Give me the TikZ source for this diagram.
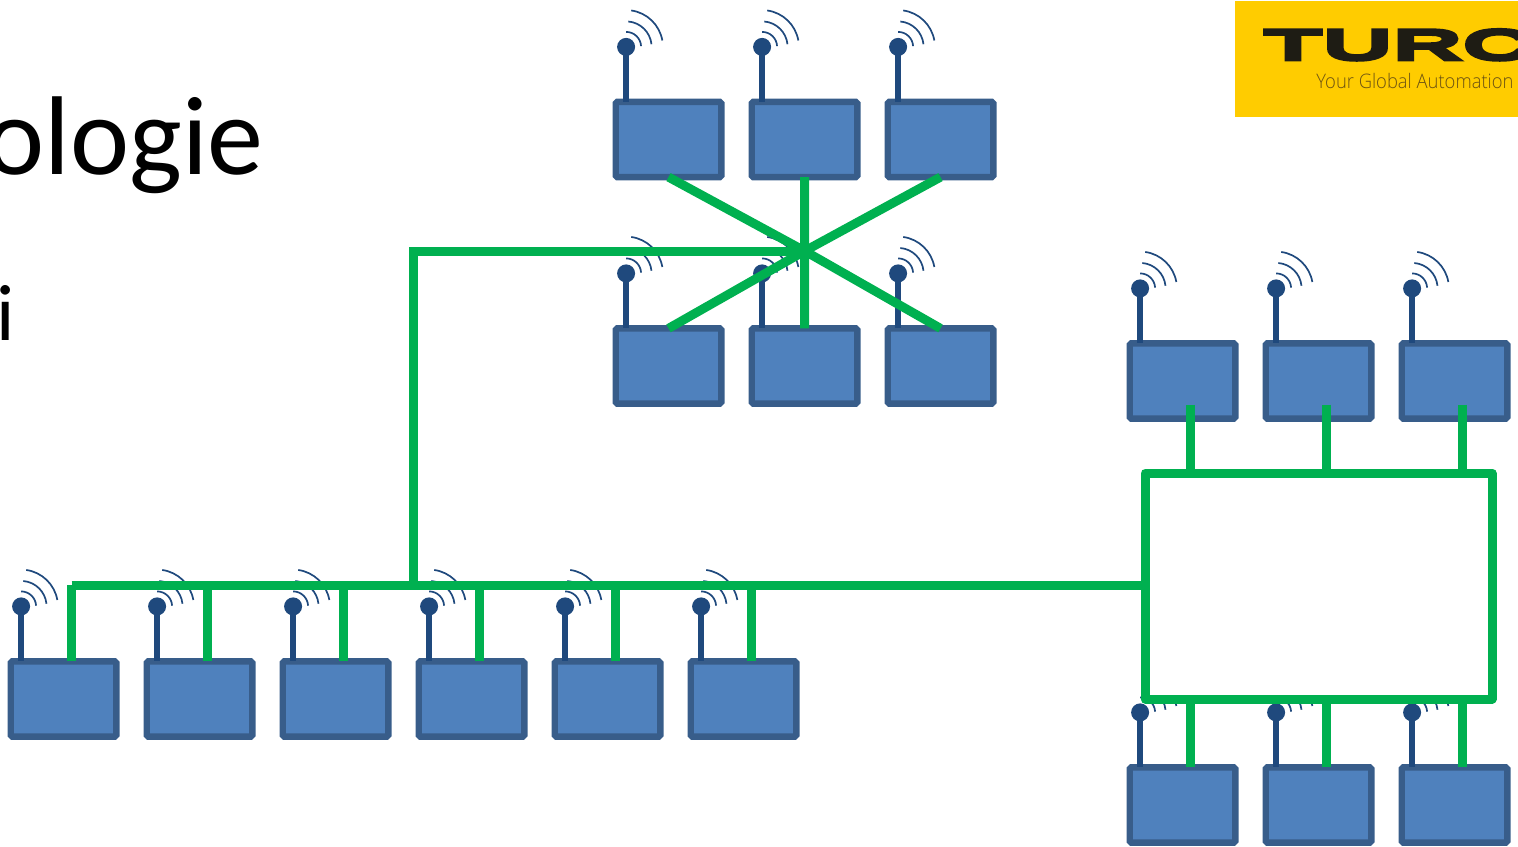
\documentclass[tikz,border=0pt]{standalone}
\usepackage{fontspec}
\setmainfont{Carlito}
\newfontfamily\turckfont[FakeBold=6,FakeStretch=2.2]{Liberation Sans Bold}
\newfontfamily\logofont[FakeStretch=0.92]{Open Sans Light}
\usetikzlibrary{calc}
\definecolor{boxfill}{HTML}{4F81BD}
\definecolor{boxline}{HTML}{385D8A}
\definecolor{antenna}{HTML}{1F497D}
\definecolor{wire}{HTML}{00B050}
\definecolor{logoyellow}{HTML}{FFCC00}
\definecolor{logoblack}{HTML}{1E1C14}
\definecolor{logotext}{HTML}{6E5412}
\tikzset{
  x=.5pt,y=.5pt,
  devbox/.style={draw=boxline,fill=boxfill,line width=3.2pt,rounded corners=.8pt,
    minimum width=52.8pt,minimum height=37.6pt,inner sep=0pt,outer sep=0pt},
  hubbox/.style={draw=wire,fill=white,line width=4.5pt,line join=round,
    minimum width=173.5pt,minimum height=113pt,inner sep=0pt,outer sep=0pt},
  wireline/.style={draw=wire,line width=4.5pt},
  pole/.style={draw=antenna,line width=3.2pt},
  wave/.style={draw=antenna,line width=.85pt},
  pics/aerial/.style={code={
    \fill[antenna] (0,55) circle (9);
    \draw[pole] (0,55) -- (0,0);
    \draw[wave] (0,70) arc (90:3:15);
    \draw[wave] ($(0,55)+(85:25.5)$) arc (85:6:25.5);
    \draw[wave] ($(0,55)+(82:36.8)$) arc (82:10:36.8);
  }}
}
\begin{document}
\begin{tikzpicture}
\useasboundingbox (0,0) rectangle (1518,-846);
\clip (0,0) rectangle (1518,-846);
% title fragments
\node[anchor=base east,inner sep=0pt,font=\fontsize{56}{60}\selectfont] (title) at (264,-174.5) {ologie};
\node[anchor=base west,inner sep=0pt,font=\fontsize{40}{44}\selectfont] (sub) at (-4,-340) {i};
% logo
\fill[logoyellow] (1235,-1) rectangle (1518,-117);
\begin{scope}
\clip (1235,-1) rectangle (1518,-117);
\node[anchor=base west,inner sep=0pt,text=logoblack,font=\turckfont\fontsize{22}{24}\selectfont] (brand) at (1263,-60) {TURC};
\node[anchor=base west,inner sep=0pt,text=logotext,font=\logofont\fontsize{10}{12}\selectfont] (claim) at (1316,-88) {Your Global Automation};
\end{scope}
% boxes
\foreach \n/\x/\y in {t1/668.5/-139.5,t2/804.5/-139.5,t3/940.5/-139.5,
  m1/668.5/-366,m2/804.5/-366,m3/940.5/-366,
  r1/1182.5/-381,r2/1318.5/-381,r3/1454.5/-381,
  s1/1182.5/-805,s2/1318.5/-805,s3/1454.5/-805,
  b1/63.5/-699,b2/199.5/-699,b3/335.5/-699,b4/471.5/-699,b5/607.5/-699,b6/743.5/-699}{
  \node[devbox] (\n) at (\x,\y) {};
  \pic at ([xshift=-21.2pt]\n.north) {aerial};
}
% hub
\node[hubbox] (hub) at (1318.5,-586) {};
% star
\coordinate (star) at (804.7,-251);
\coordinate (rise) at (413,-585);
\foreach \n/\a in {t1/south,t2/south,t3/south,m1/north,m2/north,m3/north}
  \draw[wireline] (\n.\a) -- (star);
\draw[wireline] (star) -| (rise);
% bus
\coordinate (busstart) at (71.7,-585);
\draw[wireline] (busstart) -- (busstart -| hub.west);
\foreach \n in {b1,b2,b3,b4,b5,b6}
  \draw[wireline] ([xshift=4pt]\n.north) -- ([xshift=4pt]\n.north |- busstart);
% hub drops
\foreach \n in {r1,r2,r3}
  \draw[wireline] ([xshift=3.75pt,yshift=7pt]\n.south) -- ([xshift=3.75pt]\n.south |- hub.north);
\foreach \n in {s1,s2,s3}
  \draw[wireline] ([xshift=3.75pt]\n.north) -- ([xshift=3.75pt]\n.north |- hub.south);
\end{tikzpicture}
\end{document}
